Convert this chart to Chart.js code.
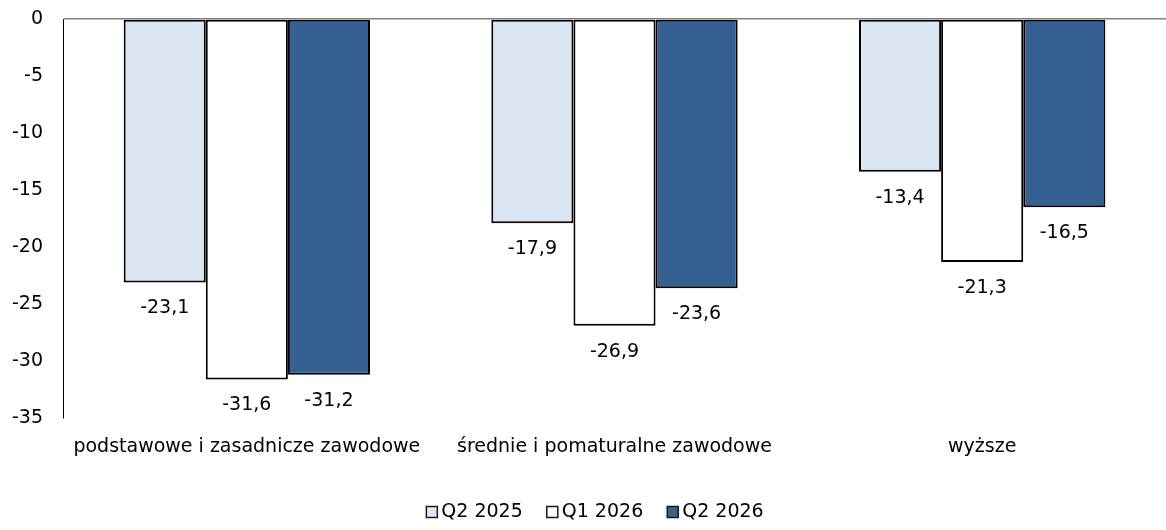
<!DOCTYPE html>
<html>
<head>
<meta charset="utf-8">
<script src="https://cdn.jsdelivr.net/npm/chart.js@4/dist/chart.umd.min.js"></script>
<style>
html,body{margin:0;padding:0;background:#fff;}
#wrap{width:1166px;height:530px;position:relative;}
</style>
</head>
<body>
<div id="wrap"><canvas id="c" width="1166" height="530"></canvas></div>
<script>
const categories = ['podstawowe i zasadnicze zawodowe', 'średnie i pomaturalne zawodowe', 'wyższe'];
const seriesNames = ['Q2 2025', 'Q1 2026', 'Q2 2026'];
const q2_2025 = [-23.1, -17.9, -13.4];
const q1_2026 = [-31.6, -26.9, -21.3];
const q2_2026 = [-31.2, -23.6, -16.5];
const yMin = -35, yMax = 0, yStep = 5;

const FONT = 'DejaVu Sans';
const FS = 19;
const colors = ['#DCE6F2', '#FFFFFF', '#376092'];

const labelPlugin = {
  id: 'valueLabels',
  afterDatasetsDraw(chart) {
    const ctx = chart.ctx;
    ctx.save();
    ctx.font = FS + 'px "' + FONT + '"';
    ctx.fillStyle = '#000';
    ctx.textAlign = 'center';
    ctx.textBaseline = 'middle';
    chart.data.datasets.forEach((ds, i) => {
      const meta = chart.getDatasetMeta(i);
      meta.data.forEach((el, j) => {
        const v = ds.data[j];
        ctx.fillText(v.toFixed(1).replace('.', ','), el.x, el.y + 26);
      });
    });
    ctx.restore();
  }
};

const legendPlugin = {
  id: 'customLegend',
  afterDraw(chart) {
    const ctx = chart.ctx;
    ctx.save();
    ctx.font = FS + 'px "' + FONT + '"';
    ctx.textBaseline = 'middle';
    ctx.textAlign = 'left';
    const box = 11, gap = 4, itemGap = 24;
    const items = chart.data.datasets.map(ds => ({ label: ds.label, color: ds.backgroundColor, w: ctx.measureText(ds.label).width }));
    const total = items.reduce((s, it) => s + box + gap + it.w, 0) + itemGap * (items.length - 1);
    let x = 595 - total / 2;
    const y = 512;
    items.forEach(it => {
      ctx.fillStyle = it.color;
      ctx.fillRect(x, y - box / 2, box, box);
      ctx.strokeStyle = '#1a1a1a';
      ctx.lineWidth = 1.5;
      ctx.strokeRect(x, y - box / 2, box, box);
      ctx.fillStyle = '#000';
      ctx.fillText(it.label, x + box + gap, y);
      x += box + gap + it.w + itemGap;
    });
    ctx.restore();
  }
};

new Chart(document.getElementById('c'), {
  type: 'bar',
  data: {
    labels: categories,
    datasets: [q2_2025, q1_2026, q2_2026].map((d, i) => ({
      label: seriesNames[i],
      data: d,
      backgroundColor: colors[i],
      borderColor: '#000',
      borderWidth: 2,
      borderSkipped: false,
      barPercentage: 1,
      categoryPercentage: 0.67
    }))
  },
  options: {
    responsive: false,
    animation: false,
    devicePixelRatio: 1,
    layout: { padding: { top: 19, right: 0, left: 0, bottom: 55 } },
    plugins: {
      legend: { display: false },
      tooltip: { enabled: false }
    },
    scales: {
      x: {
        grid: { display: false, drawTicks: false },
        border: { display: false },
        ticks: { font: { family: FONT, size: FS }, color: '#000', padding: 17, maxRotation: 0 }
      },
      y: {
        min: yMin, max: yMax,
        afterFit: (s) => { s.width = 63; s.paddingTop = 0; s.paddingBottom = 0; },
        ticks: { stepSize: yStep, font: { family: FONT, size: FS }, color: '#000', padding: 20 },
        grid: {
          drawTicks: false,
          color: (c) => (c.tick && c.tick.value === 0) ? '#808080' : 'rgba(0,0,0,0)',
          lineWidth: 1.5
        },
        border: { display: true, color: '#000', width: 1 }
      }
    }
  },
  plugins: [labelPlugin, legendPlugin]
});
</script>
</body>
</html>
